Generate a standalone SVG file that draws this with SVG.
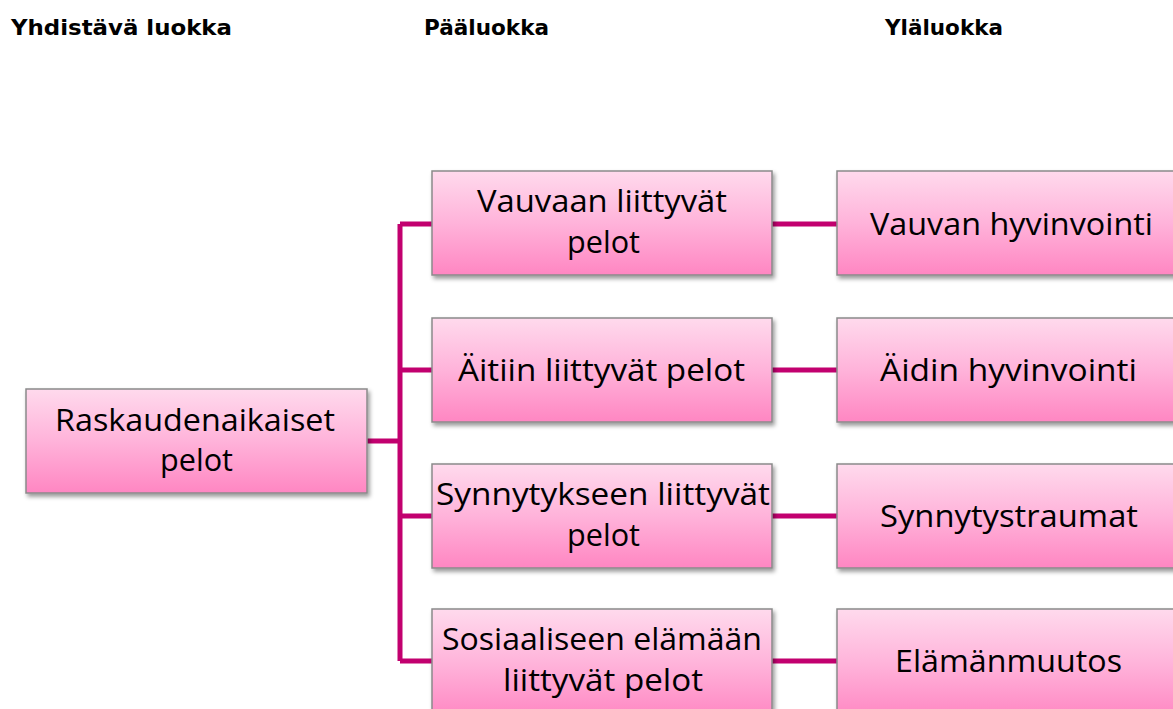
<svg xmlns="http://www.w3.org/2000/svg" width="1173" height="709" viewBox="0 0 1173 709">
<defs>
<linearGradient id="pink" x1="0" y1="0" x2="0" y2="1">
<stop offset="0" stop-color="#FFDAED"/>
<stop offset="0.5" stop-color="#FFB3DA"/>
<stop offset="1" stop-color="#FF86C2"/>
</linearGradient>
<filter id="sh" x="-5%" y="-5%" width="112%" height="120%">
<feDropShadow dx="2" dy="3" stdDeviation="2" flood-color="#000" flood-opacity="0.4"/>
</filter>
</defs>
<style>
.hdr{font-family:"DejaVu Sans",Verdana,sans-serif;font-weight:bold;font-size:21px;fill:#000}
.box{fill:url(#pink);stroke:#8a8a8a;stroke-width:1.5;filter:url(#sh)}
.t{font-family:"Open Sans","Liberation Sans",sans-serif;font-size:31px;fill:#000}
.c{stroke:#C2006F;stroke-width:5;fill:none}
</style>
<rect width="1173" height="709" fill="#fff"/>
<text class="hdr" x="11" y="35" textLength="221" lengthAdjust="spacingAndGlyphs">Yhdistävä luokka</text>
<text class="hdr" x="424" y="35" textLength="125" lengthAdjust="spacingAndGlyphs">Pääluokka</text>
<text class="hdr" x="885" y="35" textLength="118" lengthAdjust="spacingAndGlyphs">Yläluokka</text>
<g id="connectors">
<path class="c" d="M367 441 H400 M400 224 V661 M400 224 H432 M400 370 H432 M400 516 H432 M400 661 H432"/>
<path class="c" d="M772 224 H837 M772 370 H837 M772 516 H837 M772 661 H837"/>
</g>
<g id="root">
<rect class="box" x="26" y="389" width="341" height="104"/>
<text class="t" x="55" y="431" textLength="280" lengthAdjust="spacingAndGlyphs">Raskaudenaikaiset</text>
<text class="t" x="160" y="471" textLength="73" lengthAdjust="spacingAndGlyphs">pelot</text>
</g>
<g id="m1">
<rect class="box" x="432" y="171" width="340" height="104"/>
<text class="t" x="477" y="212" textLength="250" lengthAdjust="spacingAndGlyphs">Vauvaan liittyvät</text>
<text class="t" x="567" y="253" textLength="73" lengthAdjust="spacingAndGlyphs">pelot</text>
</g>
<g id="m2">
<rect class="box" x="432" y="318" width="340" height="104"/>
<text class="t" x="458" y="381" textLength="287" lengthAdjust="spacingAndGlyphs">Äitiin liittyvät pelot</text>
</g>
<g id="m3">
<rect class="box" x="432" y="464" width="340" height="104"/>
<text class="t" x="436" y="505" textLength="334" lengthAdjust="spacingAndGlyphs">Synnytykseen liittyvät</text>
<text class="t" x="567" y="546" textLength="73" lengthAdjust="spacingAndGlyphs">pelot</text>
</g>
<g id="m4">
<rect class="box" x="432" y="609" width="340" height="110"/>
<text class="t" x="442" y="650" textLength="320" lengthAdjust="spacingAndGlyphs">Sosiaaliseen elämään</text>
<text class="t" x="503" y="691" textLength="200" lengthAdjust="spacingAndGlyphs">liittyvät pelot</text>
</g>
<g id="r1">
<rect class="box" x="837" y="171" width="350" height="104"/>
<text class="t" x="870" y="235" textLength="283" lengthAdjust="spacingAndGlyphs">Vauvan hyvinvointi</text>
</g>
<g id="r2">
<rect class="box" x="837" y="318" width="350" height="104"/>
<text class="t" x="880" y="381" textLength="257" lengthAdjust="spacingAndGlyphs">Äidin hyvinvointi</text>
</g>
<g id="r3">
<rect class="box" x="837" y="464" width="350" height="104"/>
<text class="t" x="880" y="527" textLength="258" lengthAdjust="spacingAndGlyphs">Synnytystraumat</text>
</g>
<g id="r4">
<rect class="box" x="837" y="609" width="350" height="110"/>
<text class="t" x="895" y="672" textLength="227" lengthAdjust="spacingAndGlyphs">Elämänmuutos</text>
</g>
</svg>
